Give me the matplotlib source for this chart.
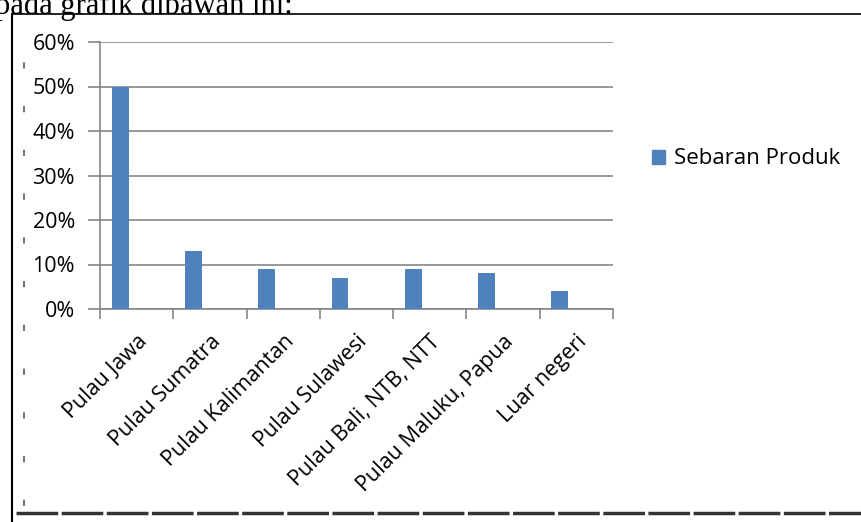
import numpy as np
import matplotlib.pyplot as plt
from matplotlib.lines import Line2D
from matplotlib.patches import Patch

# Sebaran produk per wilayah
wilayah = ['Pulau Jawa', 'Pulau Sumatra', 'Pulau Kalimantan', 'Pulau Sulawesi',
           'Pulau Bali, NTB, NTT', 'Pulau Maluku, Papua', 'Luar negeri']
sebaran = [0.50, 0.13, 0.09, 0.07, 0.09, 0.08, 0.04]
yticks = [0, 0.1, 0.2, 0.3, 0.4, 0.5, 0.6]
ylabels = ['0%', '10%', '20%', '30%', '40%', '50%', '60%']

W, H = 861, 522
fig = plt.figure(figsize=(W / 100, H / 100), dpi=100)
fig.patch.set_facecolor('white')
font = 'Open Sans'
grey = '#868686'
blue = '#4F81BD'

ax = fig.add_axes([100 / W, (H - 309) / H, 513 / W, 267 / H])
x = np.arange(len(wilayah))
ax.bar(x - 0.225, sebaran, width=0.23, color=blue, zorder=3)

ax.set_xlim(-0.5, len(wilayah) - 0.5)
ax.set_ylim(0, 0.6)
ax.set_yticks(yticks)
ax.set_yticklabels(ylabels, fontname=font, fontsize=15.5)
ax.yaxis.grid(True, color=grey, linewidth=1.2, zorder=0)
ax.tick_params(axis='y', length=9, color=grey, width=1.2, pad=9)

# ticks on category boundaries, labels at centres
ax.set_xticks(np.arange(-0.5, len(wilayah)), minor=False)
ax.set_xticklabels([])
ax.set_xticks(x, minor=True)
ax.set_xticklabels(wilayah, minor=True, rotation=45, ha='right',
                   rotation_mode='anchor', fontname=font, fontsize=15.5)
ax.tick_params(axis='x', which='major', length=7, color=grey, width=1.2)
ax.tick_params(axis='x', which='minor', length=0, pad=16)

for s in ['top', 'right']:
    ax.spines[s].set_visible(False)
for s in ['left', 'bottom']:
    ax.spines[s].set_color(grey)
    ax.spines[s].set_linewidth(1.2)

fig.legend(handles=[Patch(color=blue, label='Sebaran Produk')],
           loc='center left', bbox_to_anchor=(632 / W, 1 - 159 / H),
           frameon=False, handlelength=0.6, handleheight=0.6, handletextpad=0.4,
           prop={'family': font, 'size': 16})

# teks dokumen dan bingkai gambar
fig.text(-5 / W, 1 - 14 / H, 'pada grafik dibawah ini:', fontname='Liberation Serif',
         fontsize=22, va='baseline', ha='left')
fig.add_artist(Line2D([12 / W, 12 / W], [0, 1 - 14 / H], color='black', linewidth=1.5))
fig.add_artist(Line2D([12 / W, 1], [1 - 14 / H, 1 - 14 / H], color='black', linewidth=1.2))
fig.add_artist(Line2D([16 / W, 1], [1 - 513 / H, 1 - 513 / H], color='#333333',
                      linewidth=2.5, linestyle=(0, (12, 1))))
fig.add_artist(Line2D([24 / W, 24 / W], [0.03, 0.9], color='#777777', linewidth=1.5,
                      linestyle=(0, (3, 18))))

fig.savefig('out.png', dpi=100)
